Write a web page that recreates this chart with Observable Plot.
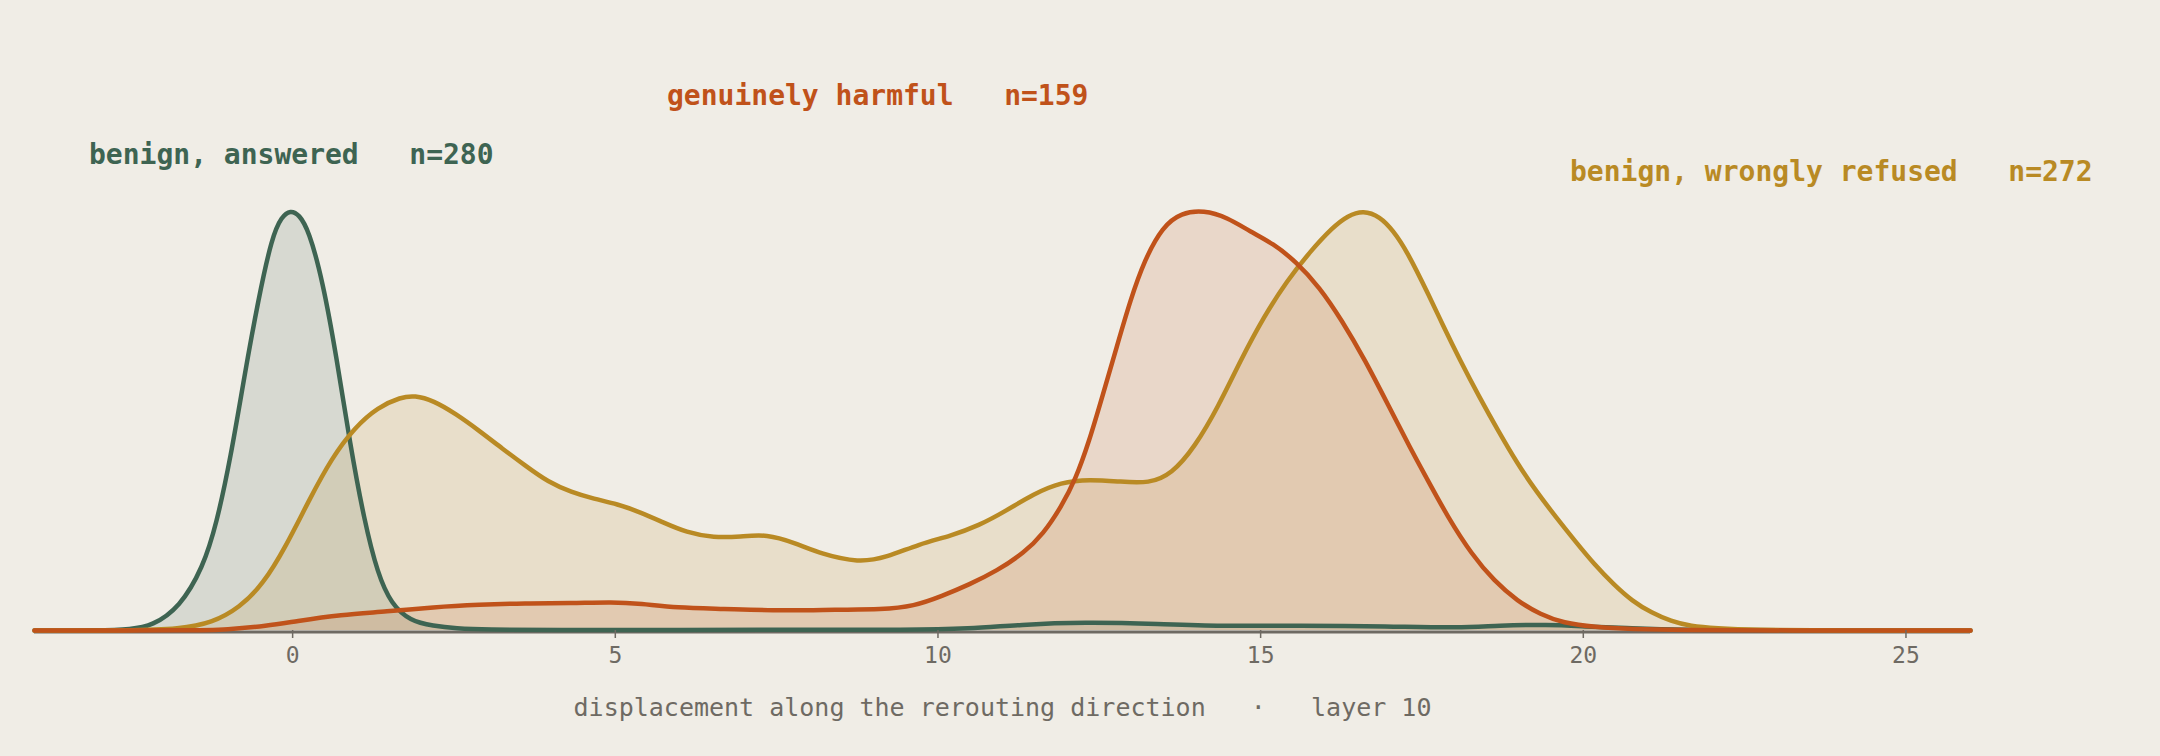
<!DOCTYPE html>
<html>
<head>
<meta charset="utf-8">
<script src="https://cdn.jsdelivr.net/npm/d3@7"></script>
<script src="https://cdn.jsdelivr.net/npm/@observablehq/plot@0.6"></script>
<style>
  html, body { margin: 0; padding: 0; background: #f0ede6; }
  #wrap { position: relative; width: 2160px; height: 756px; background: #f0ede6; font-family: "DejaVu Sans Mono", monospace; }
  .lab { position: absolute; font-size: 28px; font-weight: bold; line-height: 28px; white-space: pre; }
</style>
</head>
<body>
<div id="wrap"></div>
<script>
// ---- data (normalised density, each series scaled to its own peak) ----
const answeredX = [-4, -3, -2.5, -2.18, -1.75, -1.39, -1.18, -0.96, -0.75, -0.535, -0.32, -0.17, -0.035, 0.1, 0.25, 0.464, 0.68, 0.89, 1.11, 1.32, 1.53, 1.82, 2.18, 2.53, 3.0, 4, 6, 8, 9.5, 10.5, 11.27, 12.27, 13.41, 14.48, 15.55, 16.98, 18.09, 18.68, 19.46, 19.99, 20.76, 21.5, 23, 26];
const answeredY = [0, 0, 0.003, 0.011, 0.055, 0.15, 0.254, 0.413, 0.605, 0.788, 0.94, 0.988, 1.003, 0.993, 0.955, 0.836, 0.653, 0.445, 0.262, 0.134, 0.063, 0.023, 0.011, 0.005, 0.002, 0.001, 0.001, 0.002, 0.001, 0.004, 0.014, 0.02, 0.016, 0.01, 0.012, 0.01, 0.006, 0.012, 0.014, 0.01, 0.005, 0.001, 0, 0];

const harmfulX = [-4, -1.5, -1.03, -0.39, 0.04, 0.75, 1.46, 2.18, 2.89, 3.60, 4.32, 4.96, 5.39, 5.96, 6.63, 7.63, 8.42, 9.13, 9.63, 10.06, 10.49, 10.91, 11.34, 11.63, 11.91, 12.13, 12.34, 12.55, 12.77, 12.98, 13.20, 13.48, 13.77, 14.12, 14.48, 14.84, 15.19, 15.55, 15.91, 16.26, 16.62, 16.98, 17.33, 17.55, 17.91, 18.27, 18.62, 18.98, 19.34, 19.69, 20.17, 20.76, 21.5, 23, 26];
const harmfulY = [0, 0, 0.002, 0.011, 0.022, 0.038, 0.045, 0.056, 0.062, 0.065, 0.065, 0.068, 0.064, 0.054, 0.052, 0.047, 0.05, 0.05, 0.058, 0.082, 0.11, 0.142, 0.186, 0.23, 0.295, 0.36, 0.45, 0.56, 0.677, 0.788, 0.884, 0.964, 0.997, 1.003, 0.986, 0.952, 0.924, 0.88, 0.82, 0.74, 0.645, 0.537, 0.432, 0.37, 0.268, 0.182, 0.118, 0.07, 0.038, 0.018, 0.008, 0.003, 0.001, 0, 0];

const refusedX = [-4, -2.5, -1.75, -1.25, -0.82, -0.46, -0.107, 0.25, 0.61, 0.965, 1.32, 1.68, 1.89, 2.18, 2.53, 2.89, 3.25, 3.60, 3.96, 4.32, 4.67, 5.03, 5.39, 5.74, 6.10, 6.53, 6.94, 7.35, 7.77, 8.20, 8.77, 9.20, 9.70, 10.2, 10.63, 11.06, 11.48, 11.91, 12.34, 12.84, 13.27, 13.62, 13.98, 14.34, 14.69, 15.05, 15.41, 15.77, 16.12, 16.35, 16.59, 16.85, 17.05, 17.26, 17.62, 17.82, 18.09, 18.39, 18.68, 18.98, 19.28, 19.58, 19.87, 20.17, 20.47, 20.76, 21.06, 21.36, 21.66, 22.07, 22.6, 24, 26];
const refusedY = [0, 0, 0.004, 0.018, 0.055, 0.11, 0.2, 0.31, 0.413, 0.485, 0.533, 0.557, 0.561, 0.549, 0.517, 0.477, 0.434, 0.394, 0.354, 0.33, 0.314, 0.302, 0.282, 0.258, 0.234, 0.221, 0.224, 0.230, 0.210, 0.182, 0.162, 0.174, 0.206, 0.226, 0.25, 0.286, 0.326, 0.354, 0.361, 0.355, 0.351, 0.373, 0.438, 0.533, 0.645, 0.749, 0.835, 0.905, 0.963, 0.99, 1.003, 0.988, 0.955, 0.908, 0.796, 0.73, 0.645, 0.557, 0.477, 0.398, 0.330, 0.270, 0.214, 0.158, 0.11, 0.07, 0.042, 0.022, 0.01, 0.005, 0.001, 0, 0];

const seriesNames = ["benign, answered", "benign, wrongly refused", "genuinely harmful"];
const seriesN = [280, 272, 159];
const seriesColors = ["#3e6452", "#b98a24", "#c0521a"];
const xTicks = [0, 5, 10, 15, 20, 25];
const xDomain = [-4, 26];
const axisLabel = "displacement along the rerouting direction   \u00b7   layer 10";

// ---- build ----
const toRows = (xs, ys) => xs.map((x, i) => ({x, y: ys[i]}));
const series = [
  {rows: toRows(answeredX, answeredY), color: seriesColors[0]},
  {rows: toRows(refusedX, refusedY), color: seriesColors[1]},
  {rows: toRows(harmfulX, harmfulY), color: seriesColors[2]}
];
const curve = "basis";

const marks = [
  Plot.ruleY([0], {stroke: "#6e6a63", strokeWidth: 3, dy: 1.5}),
  ...series.map(s => Plot.areaY(s.rows, {x: "x", y: "y", fill: s.color, fillOpacity: 0.14, curve})),
  ...series.map(s => Plot.lineY(s.rows, {x: "x", y: "y", stroke: s.color, strokeWidth: 4.5, curve})),
  Plot.axisX(xTicks, {tickSize: 8, tickPadding: 8, fontSize: 23, color: "#6e6a63", strokeWidth: 1.5, label: null}),
  Plot.text([axisLabel], {frameAnchor: "bottom", dy: 77, fontSize: 25, fill: "#6e6a63", lineAnchor: "middle"})
];

const chart = Plot.plot({
  width: 2160,
  height: 756,
  marginLeft: 34,
  marginRight: 190,
  marginTop: 211,
  marginBottom: 126,
  x: {domain: xDomain},
  y: {domain: [0, 1], axis: null},
  style: {background: "#f0ede6", fontFamily: "DejaVu Sans Mono", overflow: "visible"},
  marks
});

const wrap = document.getElementById("wrap");
wrap.appendChild(chart);

const labelPos = [
  {left: 89, top: 141},
  {left: 1570, top: 158},
  {left: 667, top: 82}
];
seriesNames.forEach((name, i) => {
  const d = document.createElement("div");
  d.className = "lab";
  d.style.left = labelPos[i].left + "px";
  d.style.top = labelPos[i].top + "px";
  d.style.color = seriesColors[i];
  d.textContent = `${name}   n=${seriesN[i]}`;
  wrap.appendChild(d);
});
</script>
</body>
</html>
